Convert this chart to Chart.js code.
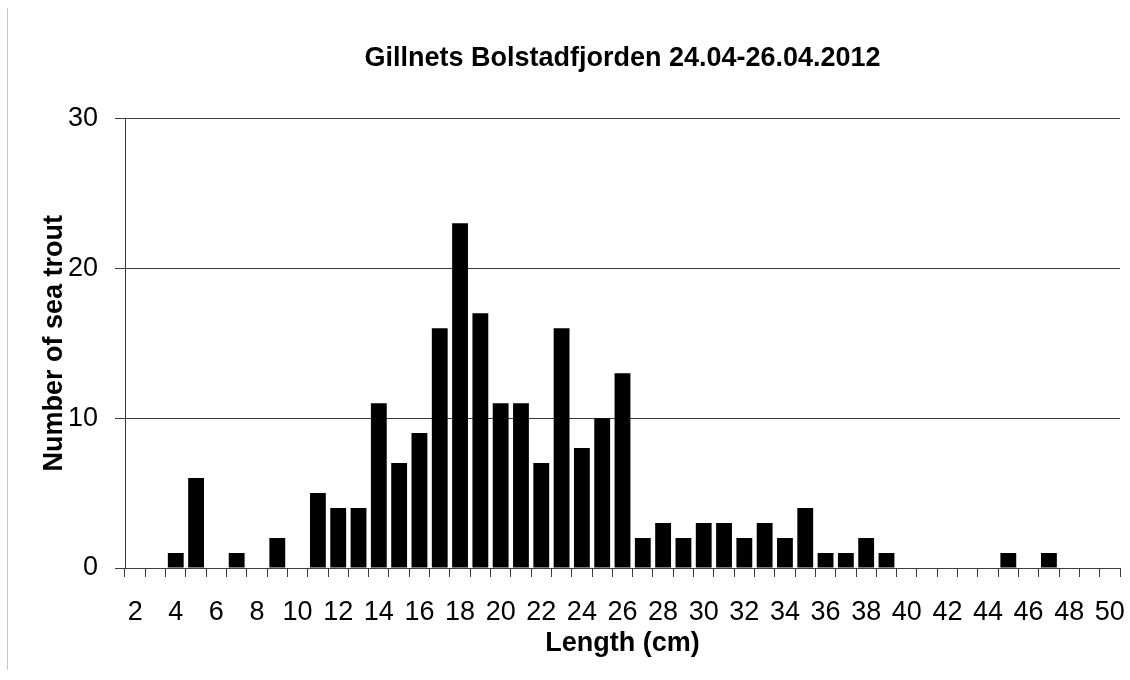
<!DOCTYPE html>
<html>
<head>
<meta charset="utf-8">
<title>Gillnets Bolstadfjorden</title>
<script src="https://cdn.jsdelivr.net/npm/chart.js@4.4.1/dist/chart.umd.min.js"></script>
<style>
    html, body { margin: 0; padding: 0; background: #fff; }
    #wrap { position: relative; width: 1130px; height: 680px; }
    #frame { position: absolute; left: 7px; top: 8px; width: 1px; height: 662px; background: #c8c8c8; }
    #chart { position: absolute; left: 0; top: 0; }
</style>
</head>
<body>
<div id="wrap">
    <div id="frame"></div>
    <canvas id="chart" width="1130" height="680"></canvas>
</div>
<script>
// length classes (cm) along the x axis
const lengthClasses = ['2', '3', '4', '5', '6', '7', '8', '9', '10', '11', '12', '13', '14', '15', '16',
    '17', '18', '19', '20', '21', '22', '23', '24', '25', '26', '27', '28', '29', '30', '31', '32', '33',
    '34', '35', '36', '37', '38', '39', '40', '41', '42', '43', '44', '45', '46', '47', '48', '49', '50'];

// number of sea trout caught in each length class
const troutCounts = [0, 0, 1, 6, 0, 1, 0, 2, 0, 5, 4, 4, 11, 7, 9,
    16, 23, 17, 11, 11, 7, 16, 8, 10, 13, 2, 3, 2, 3, 3, 2, 3,
    2, 4, 1, 1, 2, 1, 0, 0, 0, 0, 0, 1, 0, 1, 0, 0, 0];

// only every second class gets a label
const shownLabels = ['2', '4', '6', '8', '10', '12', '14', '16', '18', '20', '22', '24', '26',
    '28', '30', '32', '34', '36', '38', '40', '42', '44', '46', '48', '50'];

const yTicks = [0, 10, 20, 30];

const FONT = '"Liberation Sans", Arial, Helvetica, sans-serif';
const INK = '#000000';
const LINE = '#3c3c3c';

const ctx = document.getElementById('chart').getContext('2d');

new Chart(ctx, {
    type: 'bar',
    data: {
        labels: lengthClasses,
        datasets: [{
            label: 'Number of sea trout',
            data: troutCounts,
            backgroundColor: INK,
            borderColor: INK,
            borderWidth: 0,
            barPercentage: 0.78,
            categoryPercentage: 1.0
        }]
    },
    options: {
        responsive: false,
        devicePixelRatio: 1,
        animation: false,
        layout: {
            padding: { left: 0, right: 10, top: 0, bottom: 0 }
        },
        plugins: {
            legend: { display: false },
            tooltip: { enabled: false },
            title: {
                display: true,
                fullSize: false,
                text: 'Gillnets Bolstadfjorden 24.04-26.04.2012',
                color: INK,
                font: { family: FONT, size: 27, weight: 'bold', lineHeight: 1.2 },
                padding: { top: 42, bottom: 44 }
            }
        },
        scales: {
            x: {
                offset: true,
                grid: {
                    display: true,
                    offset: true,
                    drawOnChartArea: false,
                    drawTicks: true,
                    tickLength: 9,
                    color: LINE,
                    lineWidth: 1
                },
                border: { display: true, color: LINE, width: 1 },
                ticks: {
                    autoSkip: false,
                    maxRotation: 0,
                    minRotation: 0,
                    padding: 19,
                    color: INK,
                    font: { family: FONT, size: 27 },
                    callback: function (value) {
                        const lab = this.getLabelForValue(value);
                        return shownLabels.includes(lab) ? lab : '';
                    }
                },
                title: {
                    display: true,
                    text: 'Length (cm)',
                    color: INK,
                    font: { family: FONT, size: 27, weight: 'bold', lineHeight: 1.2 },
                    padding: { top: 0, bottom: 20 }
                },
                afterFit: function (scale) {
                    scale.height = 112;
                    // let the last label hang past the axis end, as in the original
                    scale.paddingLeft = 0;
                    scale.paddingRight = 0;
                }
            },
            y: {
                min: 0,
                max: 30,
                afterBuildTicks: function (scale) {
                    scale.ticks = yTicks.map(v => ({ value: v }));
                },
                grid: {
                    display: true,
                    drawOnChartArea: true,
                    drawTicks: true,
                    tickLength: 10,
                    color: LINE,
                    lineWidth: 1
                },
                border: { display: true, color: LINE, width: 1 },
                ticks: {
                    padding: 17,
                    color: INK,
                    font: { family: FONT, size: 27 }
                },
                title: {
                    display: true,
                    text: 'Number of sea trout',
                    color: INK,
                    font: { family: FONT, size: 27, weight: 'bold', lineHeight: 1.2 },
                    padding: { top: 38, bottom: 0 }
                },
                afterFit: function (scale) {
                    scale.width = 125;
                }
            }
        }
    }
});
</script>
</body>
</html>
